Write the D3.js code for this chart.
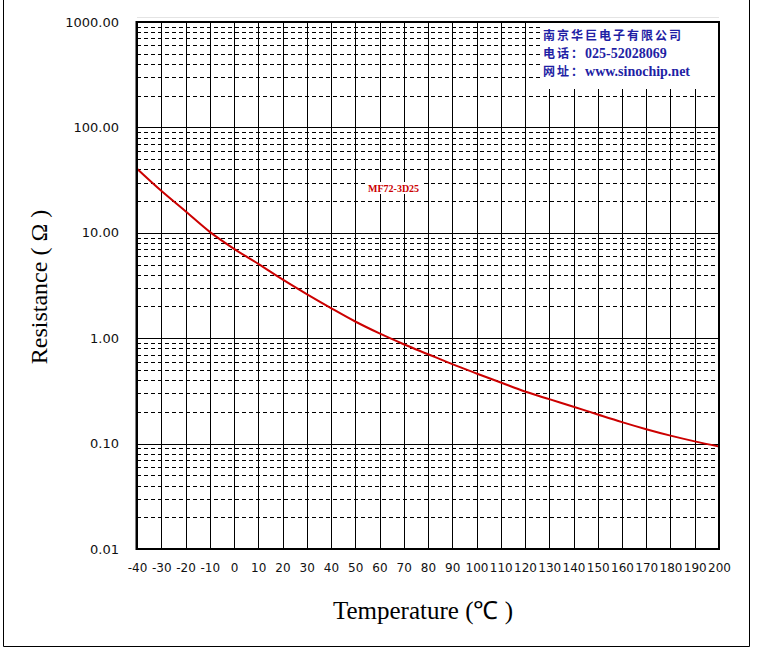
<!DOCTYPE html>
<html>
<head>
<meta charset="utf-8">
<script src="https://cdn.jsdelivr.net/npm/d3@7"></script>
<style>
  html, body { margin: 0; padding: 0; background: #fff; }
  svg { display: block; }
</style>
</head>
<body>
<svg id="chart" width="760" height="652"></svg>
<script>
// ---- data ----
const temperatures = [-40,-30,-20,-10,0,10,20,30,40,50,60,70,80,90,100,110,120,130,140,150,160,170,180,190,200];
const resistance   = [40.5,25.0,16.0,10.2,7.05,5.08,3.61,2.62,1.93,1.44,1.11,0.877,0.705,0.567,0.463,0.380,0.312,0.264,0.224,0.189,0.160,0.137,0.119,0.105,0.094];
const xTickValues  = [-40,-30,-20,-10,0,10,20,30,40,50,60,70,80,90,100,110,120,130,140,150,160,170,180,190,200];
const yTickValues  = [0.01,0.1,1,10,100,1000];
const yTickLabels  = ["0.01","0.10","1.00","10.00","100.00","1000.00"];
const seriesName   = "MF72-3D25";
const companyLines = ["南京华巨电子有限公司","电话：025-52028069","网址：www.sinochip.net"];
const xTitle = "Temperature (℃ )";
const yTitle = "Resistance ( Ω )";

const svg = d3.select("#chart");
const L = 137, R = 719, T = 22, B = 549;
const x = d3.scaleLinear().domain([-40,200]).range([L,R]);
const y = d3.scaleLog().domain([0.01,1000]).range([B,T]);

// outer frame
svg.append("line").attr("x1",3.5).attr("x2",3.5).attr("y1",0).attr("y2",646.5).attr("stroke","#000").attr("stroke-width",1);
svg.append("line").attr("x1",749.5).attr("x2",749.5).attr("y1",0).attr("y2",646.5).attr("stroke","#000").attr("stroke-width",1);
svg.append("line").attr("x1",3.5).attr("x2",749.5).attr("y1",646.5).attr("y2",646.5).attr("stroke","#000").attr("stroke-width",1);

// faint line above plot
svg.append("line").attr("x1",L).attr("x2",R).attr("y1",17.5).attr("y2",17.5).attr("stroke","#e4e4e4");

const g = svg.append("g");

// minor dashed horizontal gridlines
const minors = [];
for (let e = -2; e < 3; e++) for (let m = 2; m <= 9; m++) minors.push(m * Math.pow(10, e));
g.selectAll("line.minor").data(minors).join("line")
  .attr("x1",L).attr("x2",R)
  .attr("y1",d=>Math.round(y(d))+0.5).attr("y2",d=>Math.round(y(d))+0.5)
  .attr("stroke","#000").attr("stroke-width",1).attr("stroke-dasharray","4,3");

// major solid horizontal gridlines
g.selectAll("line.major").data(yTickValues).join("line")
  .attr("x1",L).attr("x2",R)
  .attr("y1",d=>Math.round(y(d))+0.5).attr("y2",d=>Math.round(y(d))+0.5)
  .attr("stroke","#000").attr("stroke-width",1);

// vertical gridlines
g.selectAll("line.vert").data(xTickValues.slice(1,-1)).join("line")
  .attr("x1",d=>Math.round(x(d))+0.5).attr("x2",d=>Math.round(x(d))+0.5)
  .attr("y1",T).attr("y2",B)
  .attr("stroke","#000").attr("stroke-width",1);

// white box for company info
svg.append("rect").attr("x",540).attr("y",T+1).attr("width",R-541).attr("height",66).attr("fill","#fff");
const info = svg.append("g").attr("fill","#1f1fa5").attr("font-weight","bold");
companyLines.forEach((t,i)=>{
  const m = t.match(/^([^\x00-\x7f]+)(.*)$/);
  const txt = info.append("text").attr("x",543).attr("y",[40,58,76][i]);
  txt.append("tspan").attr("font-family","'Noto Sans CJK SC', sans-serif")
    .attr("font-size","12px").attr("letter-spacing","2px").text(m ? m[1] : t);
  if (m && m[2]) txt.append("tspan").attr("font-family","'Liberation Serif', 'Times New Roman', serif")
    .attr("font-size","14px").text(m[2]);
});

// series label
svg.append("rect").attr("x",366).attr("y",182).attr("width",58).attr("height",12).attr("fill","#fff");
svg.append("text").attr("x",368).attr("y",191.5)
  .attr("font-family","'Liberation Serif', 'Times New Roman', serif")
  .attr("font-size","10px").attr("font-weight","bold").attr("fill","#cc0000")
  .text(seriesName);

// curve
const line = d3.line().x((d,i)=>x(temperatures[i])).y(d=>y(d)).curve(d3.curveMonotoneX);
svg.append("path").datum(resistance).attr("d",line)
  .attr("fill","none").attr("stroke","#cc0000").attr("stroke-width",2);

// plot frame
svg.append("rect").attr("x",L).attr("y",T).attr("width",R-L).attr("height",B-T)
  .attr("fill","none").attr("stroke","#000").attr("stroke-width",2);
svg.append("line").attr("x1",L-0.5).attr("x2",L-0.5).attr("y1",T-1).attr("y2",B+1).attr("stroke","#000").attr("stroke-width",2);

// y axis labels
const yAxis = d3.axisLeft(y).tickValues(yTickValues).tickSize(0).tickPadding(0)
  .tickFormat((d,i)=>yTickLabels[i]);
const ya = svg.append("g").attr("transform","translate(119,0)").call(yAxis);
ya.select(".domain").remove();
ya.selectAll("text").attr("font-family","'DejaVu Sans', Verdana, sans-serif").attr("font-size","13px").attr("fill","#111");

// x axis labels
const xAxis = d3.axisBottom(x).tickValues(xTickValues).tickSize(0).tickPadding(0).tickFormat(d=>String(d));
const xa = svg.append("g").attr("transform","translate(0,563)").call(xAxis);
xa.select(".domain").remove();
xa.selectAll("text").attr("font-family","'DejaVu Sans', Verdana, sans-serif").attr("font-size","12px").attr("fill","#111");

// axis titles
svg.append("text").attr("transform","translate(47,287) rotate(-90)")
  .attr("text-anchor","middle")
  .attr("font-family","'Liberation Serif', 'Times New Roman', serif").attr("font-size","24px").attr("fill","#000")
  .text(yTitle);
svg.append("text").attr("x",423).attr("y",619)
  .attr("text-anchor","middle")
  .attr("font-family","'Liberation Serif', 'Times New Roman', serif").attr("font-size","25px").attr("fill","#000")
  .text(xTitle);
</script>
</body>
</html>
